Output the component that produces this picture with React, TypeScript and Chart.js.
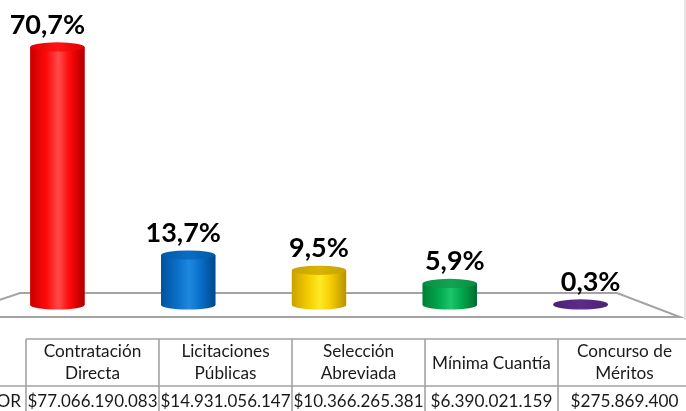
import React, { useEffect, useRef } from "react";
import { Chart, registerables } from "chart.js";

Chart.register(...registerables);

// ---------- data ----------
const categoryLines: string[][] = [
  ["Contratación", "Directa"],
  ["Licitaciones", "Públicas"],
  ["Selección", "Abreviada"],
  ["Mínima Cuantía"],
  ["Concurso de", "Méritos"],
];
const categories = categoryLines.map((l) => l.join(" "));
const percentages = [70.7, 13.7, 9.5, 5.9, 0.3];
const percentLabels = ["70,7%", "13,7%", "9,5%", "5,9%", "0,3%"];
const amountLabels = [
  "$77.066.190.083",
  "$14.931.056.147",
  "$10.366.265.381",
  "$6.390.021.159",
  "$275.869.400",
];
const rowLabel = "VALOR";

// ---------- styles ----------
type Shade = { base: string; dark: string; light: string; edge: string; top: string; topDark: string };
const shades: Shade[] = [
  { base: "#ff0a0a", dark: "#c80000", light: "#ff4a4a", edge: "#a80000", top: "#ff1414", topDark: "#e00000" },
  { base: "#0a6fc8", dark: "#00539e", light: "#2088e0", edge: "#00458a", top: "#0a6cc2", topDark: "#005aa8" },
  { base: "#f5cc00", dark: "#c9a200", light: "#ffe924", edge: "#b89400", top: "#d9b400", topDark: "#c8a300" },
  { base: "#00a84c", dark: "#007e36", light: "#1cc66a", edge: "#006a2d", top: "#12a452", topDark: "#0a8c42" },
  { base: "#5a2a88", dark: "#47206c", light: "#6a3698", edge: "#3e1c60", top: "#5b2b8a", topDark: "#4c2374" },
];

const SHIFT = 40; // canvas x = page x + SHIFT
const GRID = "#a3a3a3";

function drawCylinder(ctx: CanvasRenderingContext2D, x: number, top: number, base: number, w: number, c: Shade) {
  const rx = w / 2;
  const ry = 4.6;
  const left = x - rx;
  const right = x + rx;
  const g = ctx.createLinearGradient(left, 0, right, 0);
  g.addColorStop(0, c.dark);
  g.addColorStop(0.3, c.base);
  g.addColorStop(0.52, c.light);
  g.addColorStop(0.72, c.base);
  g.addColorStop(0.92, c.dark);
  g.addColorStop(1, c.edge);
  ctx.save();
  ctx.fillStyle = g;
  ctx.beginPath();
  ctx.moveTo(left, top);
  ctx.lineTo(left, base);
  ctx.ellipse(x, base, rx, ry, 0, Math.PI, 0, true);
  ctx.lineTo(right, top);
  ctx.closePath();
  ctx.fill();
  const tg = ctx.createLinearGradient(left, 0, right, 0);
  tg.addColorStop(0, c.topDark);
  tg.addColorStop(0.5, c.top);
  tg.addColorStop(1, c.topDark);
  ctx.fillStyle = tg;
  ctx.beginPath();
  ctx.ellipse(x, top, rx, ry, 0, 0, Math.PI * 2);
  ctx.fill();
  ctx.restore();
}

const decorPlugin = {
  id: "decor",
  beforeDatasetsDraw(chart: any) {
    const { ctx, chartArea: a, scales } = chart;
    const zero = scales.y.getPixelForValue(0);
    const back = zero - 12;
    const front = zero + 12;
    ctx.save();
    ctx.strokeStyle = GRID;
    ctx.lineWidth = 2;
    ctx.beginPath();
    ctx.moveTo(a.left - 43, front);
    ctx.lineTo(a.left + 28, back);
    ctx.lineTo(a.right - 29, back);
    ctx.lineTo(a.right + 34, front);
    ctx.closePath();
    ctx.stroke();
    // faint right border of plot
    ctx.strokeStyle = "#e4e4e4";
    ctx.lineWidth = 2;
    ctx.beginPath();
    ctx.moveTo(685 + SHIFT, 0);
    ctx.lineTo(685 + SHIFT, front + 3);
    ctx.stroke();
    ctx.restore();
  },
  afterDatasetsDraw(chart: any) {
    const { ctx, chartArea: a } = chart;
    const meta = chart.getDatasetMeta(0);
    meta.data.forEach((el: any, i: number) => {
      const p = el.getProps(["x", "y", "base", "width"], true);
      drawCylinder(ctx, p.x, p.y, p.base, p.width, shades[i]);
    });
    // value labels
    ctx.save();
    ctx.fillStyle = "#000";
    ctx.font = "bold 27px Lato";
    ctx.textAlign = "center";
    ctx.textBaseline = "alphabetic";
    meta.data.forEach((el: any, i: number) => {
      const p = el.getProps(["x", "y"], true);
      ctx.fillText(percentLabels[i], p.x + (i - 2) * 5, p.y - 13);
    });
    ctx.restore();

    // data table
    const tableLeft = a.left + 34;
    const colW = 133;
    const yTop = 339;
    const yMid = 386;
    const yBot = 420;
    ctx.save();
    ctx.strokeStyle = GRID;
    ctx.lineWidth = 1.6;
    ctx.beginPath();
    ctx.moveTo(tableLeft, yTop);
    ctx.lineTo(tableLeft + colW * categories.length, yTop);
    ctx.moveTo(0, yMid);
    ctx.lineTo(tableLeft + colW * categories.length, yMid);
    for (let i = 0; i <= categories.length; i++) {
      const x = tableLeft + i * colW;
      ctx.moveTo(x, yTop);
      ctx.lineTo(x, yBot);
    }
    ctx.stroke();
    ctx.fillStyle = "#1a1a1a";
    ctx.font = "17.2px Lato";
    ctx.textAlign = "center";
    ctx.textBaseline = "alphabetic";
    categoryLines.forEach((lines, i) => {
      const cx = tableLeft + i * colW + colW / 2;
      if (lines.length === 1) {
        ctx.fillText(lines[0], cx, 369);
      } else {
        ctx.fillText(lines[0], cx, 357);
        ctx.fillText(lines[1], cx, 379);
      }
      ctx.fillText(amountLabels[i], cx, 407, colW - 3);
    });
    ctx.textAlign = "right";
    ctx.fillText(rowLabel, tableLeft - 5, 407);
    ctx.restore();
  },
};

export default function App() {
  const ref = useRef<HTMLCanvasElement | null>(null);
  useEffect(() => {
    if (!ref.current) return;
    const chart = new Chart(ref.current, {
      type: "bar",
      data: {
        labels: categories,
        datasets: [
          {
            data: percentages,
            backgroundColor: shades.map((s) => s.base),
            borderWidth: 0,
            categoryPercentage: 1,
            barPercentage: 0.415,
          },
        ],
      },
      options: {
        animation: false,
        responsive: true,
        maintainAspectRatio: false,
        layout: { padding: { left: 32, right: 54, top: 13, bottom: 106 } },
        plugins: { legend: { display: false }, tooltip: { enabled: false } },
        scales: {
          x: { display: false, offset: true, grid: { display: false } },
          y: { display: false, min: 0, max: 80, grid: { display: false } },
        },
      },
      plugins: [decorPlugin],
    });
    return () => chart.destroy();
  }, []);
  return (
    <div
      style={{
        position: "fixed",
        left: 0,
        top: 0,
        width: 686,
        height: 411,
        overflow: "hidden",
        background: "#fff",
      }}
    >
      <div style={{ position: "absolute", left: -SHIFT, top: 0, width: 740, height: 411 }}>
        <canvas ref={ref} style={{ display: "block" }} />
      </div>
    </div>
  );
}
